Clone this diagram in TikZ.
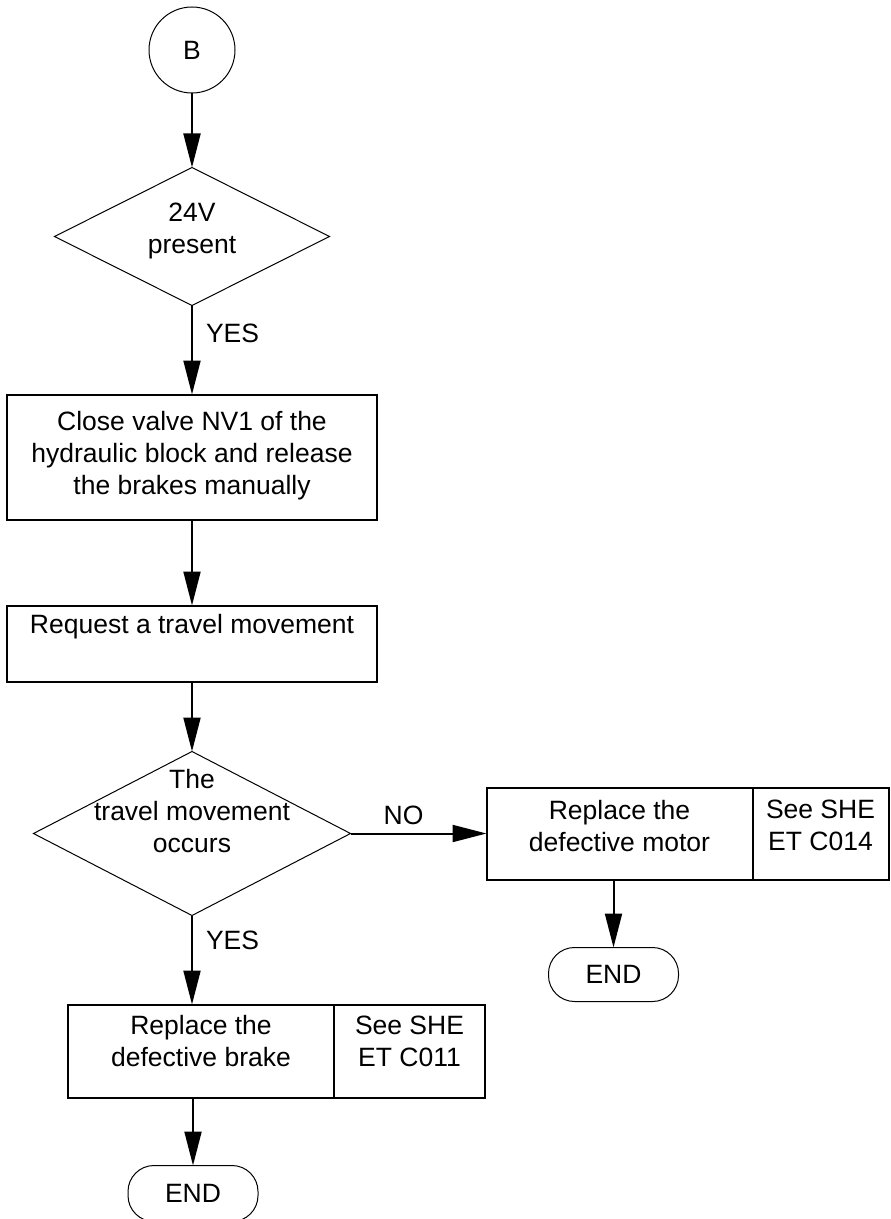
\documentclass[tikz,border=0pt]{standalone}
\usepackage{fontspec}
\setmainfont{Liberation Sans}
\usepackage{tikz}
\usetikzlibrary{positioning,arrows.meta,shapes.geometric}
\tikzset{
  startNode/.style={draw, circle, line width=0.5pt, minimum size=43pt, inner sep=0pt},
  decision/.style={draw, diamond, line width=0.5pt, inner sep=0pt, outer sep=0pt},
  procBox/.style={draw, rectangle, line width=1pt, align=center, inner sep=0pt, outer sep=0pt},
  endNode/.style={draw, rectangle, rounded corners=13pt, line width=0.5pt, minimum width=65pt, minimum height=27pt, outer sep=0pt},
  arrow/.style={-{Triangle[length=17pt, width=8.5pt]}, line width=1pt},
  edgeLabel/.style={inner sep=0pt}
}

\begin{document}
\begin{tikzpicture}[font=\fontsize{13.25}{16}\selectfont]
  \useasboundingbox (0pt,0pt) rectangle (445pt,-609.5pt);

  \node[startNode] (start) at (96pt,-25pt) {B};
  \node[decision, below=37pt of start, minimum width=137.5pt, minimum height=69pt,
        label={[align=center, yshift=3pt]center:{24V\\present}}] (volt) {};
  \node[procBox, below=44.5pt of volt, minimum width=185pt, minimum height=62.5pt, text depth=4pt] (valve)
    {Close valve NV1 of the\\hydraulic block and release\\the brakes manually};
  \node[procBox, below=43pt of valve, minimum width=185pt, minimum height=38pt, text depth=20pt] (request)
    {Request a travel movement};
  \node[decision, below=35pt of request, minimum width=158.5pt, minimum height=82pt,
        label={[align=center, yshift=11pt]center:{The\\travel movement\\occurs}}] (moves) {};

  % NO branch
  \node[procBox, right=68pt of moves, minimum width=133pt, minimum height=46pt, text depth=8pt] (motor)
    {Replace the\\defective motor};
  \node[procBox, right=0pt of motor, minimum width=68pt, minimum height=46pt, text depth=8pt] (motorRef)
    {See SHE\\ET C014};
  \node[endNode, below=34pt of motor, xshift=-3pt] (endA) {END};

  % YES branch
  \node[procBox, below=44.5pt of moves, xshift=4.5pt, minimum width=133pt, minimum height=46.5pt, text depth=10pt] (brake)
    {Replace the\\defective brake};
  \node[procBox, right=0pt of brake, minimum width=75.5pt, minimum height=46.5pt, text depth=10pt] (brakeRef)
    {See SHE\\ET C011};
  \node[endNode, below=34pt of brake, xshift=-4pt, minimum height=28pt] (endB) {END};

  \draw[arrow] (start) -- (volt);
  \draw[arrow] (volt) -- node[edgeLabel, pos=0.31, right=6.5pt]{YES} (valve);
  \draw[arrow] (valve) -- (request);
  \draw[arrow] (request) -- (moves);
  \draw[arrow] (moves) -- node[edgeLabel, pos=0.39, above=4pt]{NO} (motor);
  \draw[arrow] (motor.south -| endA.north) -- (endA);
  \draw[arrow] (moves.south) -- node[edgeLabel, pos=0.28, right=6.5pt]{YES} (moves.south |- brake.north);
  \draw[arrow] (brake.south -| endB.north) -- (endB);
\end{tikzpicture}
\end{document}
